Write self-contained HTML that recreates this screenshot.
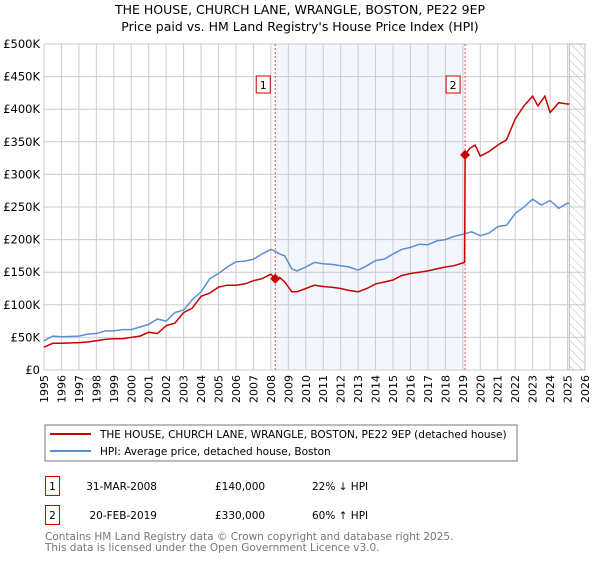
<!DOCTYPE html>
<html><head><meta charset="utf-8"><style>
body{margin:0;background:#fff;font-family:"Liberation Sans","DejaVu Sans",sans-serif;}
svg text{font-family:"DejaVu Sans","Liberation Sans",sans-serif;}
</style></head><body>
<svg id="c" width="600" height="560" xmlns="http://www.w3.org/2000/svg">
<defs><pattern id="hatch" width="6" height="6" patternUnits="userSpaceOnUse" patternTransform="rotate(-45)"><line x1="0" y1="0" x2="0" y2="6" stroke="#bbb" stroke-width="1"/></pattern></defs>
<text x="300" y="14" font-size="12.5" text-anchor="middle">THE HOUSE, CHURCH LANE, WRANGLE, BOSTON, PE22 9EP</text>
<text x="300" y="31" font-size="12.5" text-anchor="middle">Price paid vs. HM Land Registry's House Price Index (HPI)</text>
<g id="grid"></g><g id="marks"></g>
<g>
<rect x="45" y="425" width="472" height="36" fill="#fff" stroke="#777"/>
<line x1="50" y1="434" x2="91" y2="434" stroke="#cc0000" stroke-width="2"/>
<text x="100" y="438" font-size="10.5">THE HOUSE, CHURCH LANE, WRANGLE, BOSTON, PE22 9EP (detached house)</text>
<line x1="50" y1="451" x2="91" y2="451" stroke="#5b8fd4" stroke-width="2"/>
<text x="100" y="455" font-size="10.5">HPI: Average price, detached house, Boston</text>
</g>
<g font-size="10.5">
<rect x="45.5" y="476.5" width="14" height="19" fill="#fff" stroke="#cc0000"/><text x="52.5" y="490" text-anchor="middle">1</text>
<text x="157" y="490" text-anchor="end">31-MAR-2008</text><text x="215" y="490">£140,000</text><text x="312" y="490">22% ↓ HPI</text>
<rect x="45.5" y="505.5" width="14" height="19" fill="#fff" stroke="#cc0000"/><text x="52.5" y="519" text-anchor="middle">2</text>
<text x="157" y="519" text-anchor="end">20-FEB-2019</text><text x="215" y="519">£330,000</text><text x="312" y="519">60% ↑ HPI</text>
</g>
<text x="45" y="540" font-size="10.5" fill="#777">Contains HM Land Registry data © Crown copyright and database right 2025.</text>
<text x="45" y="551" font-size="10.5" fill="#777">This data is licensed under the Open Government Licence v3.0.</text>
</svg>
<script>
const hpiYears=[1995,1995.5,1996,1997,1997.5,1998,1998.5,1999,1999.5,2000,2000.5,2001,2001.5,2002,2002.5,2003,2003.5,2004,2004.5,2005,2005.5,2006,2006.5,2007,2007.5,2008,2008.25,2008.5,2008.8,2009.2,2009.5,2010,2010.5,2011,2011.5,2012,2012.5,2013,2013.5,2014,2014.5,2015,2015.5,2016,2016.5,2017,2017.5,2018,2018.5,2019,2019.5,2020,2020.5,2021,2021.5,2022,2022.5,2023,2023.5,2024,2024.5,2025,2025.1];
const hpiValues=[45,52,51,52,55,56,60,60,62,62,66,70,78,75,88,92,108,120,140,148,158,166,167,170,178,185,182,178,175,155,152,158,165,163,162,160,158,153,160,168,170,178,185,188,193,192,198,200,205,208,212,206,210,220,222,240,250,262,253,260,248,256,255];
const priceYears=[1995,1995.5,1996,1997,1997.5,1998,1998.5,1999,1999.5,2000,2000.5,2001,2001.5,2002,2002.5,2003,2003.5,2004,2004.5,2005,2005.5,2006,2006.5,2007,2007.5,2008,2008.25,2008.5,2008.8,2009.2,2009.5,2010,2010.5,2011,2011.5,2012,2012.5,2013,2013.5,2014,2014.5,2015,2015.5,2016,2016.5,2017,2017.5,2018,2018.5,2019.1,2019.13,2019.4,2019.7,2020,2020.5,2021,2021.5,2022,2022.5,2023,2023.3,2023.7,2024,2024.5,2025,2025.1];
const priceValues=[35,41,41,42,43,45,47,48,48,50,52,58,56,68,72,88,95,113,118,127,130,130,132,137,140,147,140,142,135,120,120,125,130,128,127,125,122,120,125,132,135,138,145,148,150,152,155,158,160,165,330,340,345,328,335,345,353,385,405,420,405,420,395,410,408,408];
const saleYears=[2008.25,2019.13];
const saleValues=[140,330];
const saleLabels=["1","2"];
const yTicks=[0,50,100,150,200,250,300,350,400,450,500];
const yTickLabels=["£0","£50K","£100K","£150K","£200K","£250K","£300K","£350K","£400K","£450K","£500K"];
const xTicks=[1995,1996,1997,1998,1999,2000,2001,2002,2003,2004,2005,2006,2007,2008,2009,2010,2011,2012,2013,2014,2015,2016,2017,2018,2019,2020,2021,2022,2023,2024,2025,2026];

const NS="http://www.w3.org/2000/svg";
const L=44,R=585,T=44,B=370;
const x=v=>L+(v-1995)/(2026-1995)*(R-L);
const y=v=>B-v/500*(B-T);
function mk(tag,attrs,parent){const e=document.createElementNS(NS,tag);for(const k in attrs)e.setAttribute(k,attrs[k]);parent.appendChild(e);return e;}
const grid=document.getElementById('grid'),marks=document.getElementById('marks');
let sh=mk('rect',{x:x(saleYears[0]),y:T,width:x(saleYears[1])-x(saleYears[0]),height:B-T,fill:'#eef3fc',opacity:0.7},grid);


xTicks.forEach(t=>{
 let l=mk('line',{x1:x(t),x2:x(t),y1:T,y2:B,stroke:'#cccccc'},grid);
 
 
 let tx=mk('text',{x:0,y:0,'font-size':11,'text-anchor':'end',transform:`translate(${x(t)+4},${B+5}) rotate(-90)`},grid);
 tx.textContent=t;
 
 
});
yTicks.forEach((t,i)=>{
 let l=mk('line',{x1:L,x2:R,y1:y(t),y2:y(t),stroke:'#cccccc'},grid);
 
 
 let tx=mk('text',{x:L-4,y:y(t)+4,'font-size':11.5,'text-anchor':'end'},grid);
 tx.textContent=yTickLabels[i];
 
 
});
let hz=mk('rect',{x:x(2025.1),y:T,width:R-x(2025.1),height:B-T,fill:'url(#hatch)',stroke:'#bbb'},grid);


saleYears.forEach((s,i)=>{
 let l=mk('line',{x1:x(s),x2:x(s),y1:T,y2:B,stroke:'#e05555','stroke-dasharray':'2,2'},marks);
 
 
 let bx=mk('rect',{x:x(s)-19,y:T+32,width:14,height:17,fill:'#fff',stroke:'#cc0000'},marks);
 
 
 let tx=mk('text',{x:x(s)-12,y:T+45,'font-size':11,'text-anchor':'middle'},marks);
 tx.textContent=saleLabels[i];
 
 
});
function path(xs,vs){return xs.map((v,i)=>(i?'L':'M')+x(v).toFixed(1)+','+y(vs[i]).toFixed(1)).join('');}
let hp=mk('path',{d:path(hpiYears,hpiValues),fill:'none',stroke:'#5b8fd4','stroke-width':1.5},marks);


let pp=mk('path',{d:path(priceYears,priceValues),fill:'none',stroke:'#cc0000','stroke-width':1.5},marks);


saleYears.forEach((s,i)=>{
 const cx=x(s),cy=y(saleValues[i]);
 let d=mk('path',{d:`M${cx},${cy-5}L${cx+5},${cy}L${cx},${cy+5}L${cx-5},${cy}Z`,fill:'#cc0000'},marks);
 
 
});
</script>
</body></html>
